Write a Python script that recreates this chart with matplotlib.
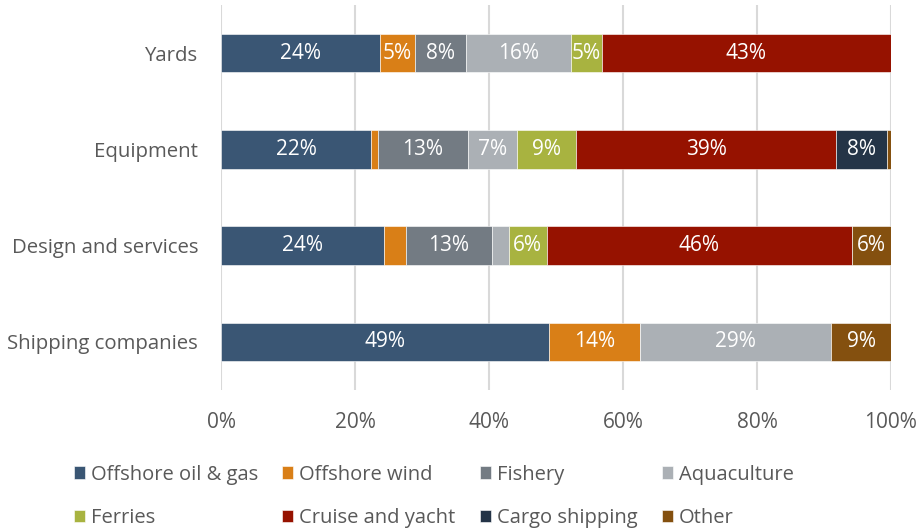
import matplotlib.pyplot as plt
import numpy as np

plt.rcParams['font.family'] = ['Open Sans', 'DejaVu Sans']

# Share of each segment by company type (%)
categories = ['Yards', 'Equipment', 'Design and services', 'Shipping companies']
segments = ['Offshore oil & gas', 'Offshore wind', 'Fishery', 'Aquaculture',
            'Ferries', 'Cruise and yacht', 'Cargo shipping', 'Other']
values = {
    'Offshore oil & gas': [23.7, 22.4, 24.3, 48.9],
    'Offshore wind':      [5.2, 1.1, 3.3, 13.6],
    'Fishery':            [7.6, 13.3, 12.8, 0.0],
    'Aquaculture':        [15.7, 7.4, 2.6, 28.6],
    'Ferries':            [4.6, 8.8, 5.6, 0.0],
    'Cruise and yacht':   [43.2, 38.8, 45.6, 0.0],
    'Cargo shipping':     [0.0, 7.6, 0.0, 0.0],
    'Other':              [0.0, 0.6, 5.8, 8.9],
}
colors = ['#3A5674', '#D97F17', '#737B83', '#ABB0B5',
          '#A8B340', '#961200', '#243447', '#84500F']

text_color = '#595959'
grid_color = '#D9D9D9'
fs = 15

fig = plt.figure(figsize=(9.19, 5.29), dpi=100)
ax = fig.add_axes([221 / 919, 1 - 390 / 529, 670 / 919, 385 / 529])

y = np.arange(len(categories))
left = np.zeros(len(categories))
handles = []
for seg, col in zip(segments, colors):
    vals = np.array(values[seg])
    bars = ax.barh(y, vals, left=left, height=0.4, color=col,
                   edgecolor='white', linewidth=0.4, label=seg, zorder=3)
    handles.append(bars)
    for yi, v, l in zip(y, vals, left):
        if v >= 4:
            ax.text(l + v / 2, yi, f"{v:.0f}%", ha='center', va='center',
                    color='white', fontsize=fs, zorder=4)
    left += vals

ax.set_xlim(0, 100)
ax.set_ylim(3.5, -0.5)
ax.set_xticks(np.arange(0, 101, 20))
ax.set_xticklabels([f"{t}%" for t in range(0, 101, 20)])
ax.set_yticks(y)
ax.set_yticklabels(categories)
ax.tick_params(axis='both', length=0, colors=text_color)
ax.tick_params(axis='x', pad=16, labelsize=fs)
ax.tick_params(axis='y', pad=16.5, labelsize=14.7)
ax.grid(axis='x', color=grid_color, linewidth=1.5, zorder=0)
for s in ax.spines.values():
    s.set_visible(False)

# legend: row-wise order across 4 columns
order = [0, 4, 1, 5, 2, 6, 3, 7]
leg = fig.legend([handles[i] for i in order], [segments[i] for i in order],
                 ncol=4, loc='center', bbox_to_anchor=(0.472, 0.062),
                 frameon=False, fontsize=14.5, handlelength=0.55,
                 handleheight=0.55, handletextpad=0.3, columnspacing=1.2,
                 labelspacing=1.15, labelcolor=text_color)

fig.savefig('out.png', dpi=100)
